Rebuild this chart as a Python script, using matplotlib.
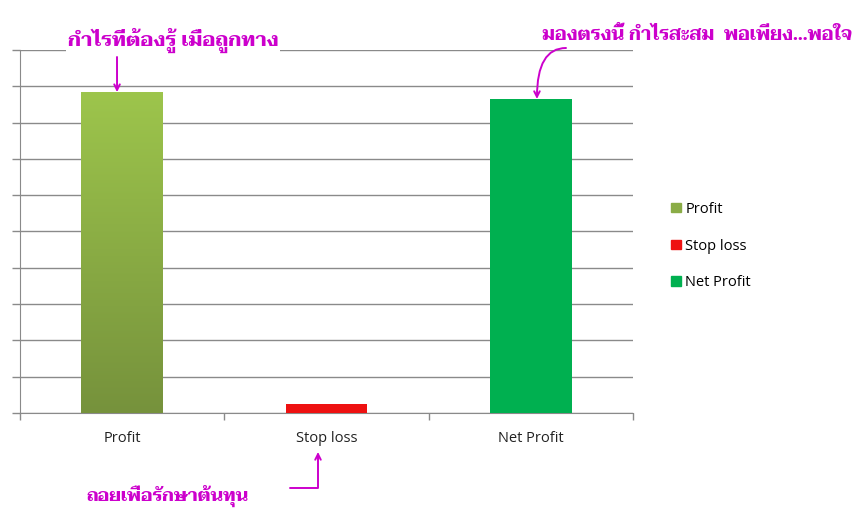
import numpy as np
import matplotlib
matplotlib.use("Agg")
import matplotlib.pyplot as plt
from matplotlib.patches import Patch
from matplotlib.colors import LinearSegmentedColormap

# data
categories = ["Profit", "Stop loss", "Net Profit"]
values = [8.84, 0.25, 8.65]
colors = ["#8aac46", "#ee1111", "#00b050"]

note_profit = "กำไรที่ต้องรู้ เมื่อถูกทาง"
note_net = "มองตรงนี้ กำไรสะสม  พอเพียง...พอใจ"
note_loss = "ถอยเพื่อรักษาต้นทุน"

W, H = 863, 512
THAI = ["Taviraj", "DejaVu Sans"]
MAGENTA = "#cc00cc"
GRID = "#8a8a8a"


def px(x, y):
    return x / W, 1 - y / H


fig = plt.figure(figsize=(W / 100, H / 100), dpi=100)
ax = fig.add_axes([20 / W, 1 - 413 / H, 613 / W, 363 / H])

x = np.arange(len(categories))
bars = ax.bar(x, values, width=0.4, color=colors, zorder=3)

# gradient on the Profit bar
b = bars[0]
grad = LinearSegmentedColormap.from_list("g", ["#76923c", "#9dc54c"])
img = ax.imshow(np.linspace(0, 1, 256).reshape(-1, 1), cmap=grad, origin="lower",
                aspect="auto", zorder=4,
                extent=[b.get_x(), b.get_x() + b.get_width(), 0, b.get_height()])
img.set_clip_path(b)

ax.set_xlim(-0.5, 2.5)
ax.set_ylim(0, 10)
ax.set_yticks(np.arange(0, 11, 1))
ax.set_yticklabels([])
ax.grid(axis="y", color=GRID, lw=1, zorder=0)
ax.tick_params(axis="y", direction="out", length=6, color=GRID, width=1)

ax.set_xticks(x)
ax.set_xticklabels(categories, fontsize=10.5, family="Open Sans", color="#222222")
ax.tick_params(axis="x", length=0, pad=13)
ax.set_xticks([-0.5, 0.5, 1.5, 2.5], minor=True)
ax.tick_params(axis="x", which="minor", direction="out", length=5, color=GRID, width=1)

for s in ["top", "right"]:
    ax.spines[s].set_visible(False)
for s in ["left", "bottom"]:
    ax.spines[s].set_color(GRID)

handles = [Patch(color=c) for c in colors]
fig.legend(handles, categories, loc="center left", bbox_to_anchor=px(664, 246),
           frameon=False, prop={"family": "Open Sans", "size": 10.5},
           handlelength=0.65, handleheight=0.65, handletextpad=0.3,
           labelspacing=1.5, borderpad=0)

# annotations
box = dict(facecolor="white", edgecolor="none", pad=1)
fig.text(*px(173, 40), note_profit, ha="center", va="center", fontsize=14.5,
         fontweight="bold", color=MAGENTA, family=THAI, bbox=box)
fig.text(*px(697, 35), note_net, ha="center", va="center", fontsize=13.3,
         fontweight="bold", color=MAGENTA, family=THAI, bbox=box)
fig.text(*px(168, 496), note_loss, ha="center", va="center", fontsize=13,
         fontweight="bold", color=MAGENTA, family=THAI)

arrow = dict(arrowstyle="->", color=MAGENTA, lw=1.4, shrinkA=0, shrinkB=0)
ax.annotate("", xy=(-0.025, values[0]), xytext=px(117, 57),
            textcoords="figure fraction", arrowprops=arrow)
ax.annotate("", xy=(2.03, values[2]), xytext=px(566, 48),
            textcoords="figure fraction",
            arrowprops=dict(arrow, connectionstyle="angle3,angleA=0,angleB=90"))
ax.annotate("", xy=px(318, 452), xycoords="figure fraction", xytext=px(290, 488),
            textcoords="figure fraction",
            arrowprops=dict(arrow, connectionstyle="angle,angleA=0,angleB=90,rad=0"))

fig.savefig("out.png", dpi=100)
